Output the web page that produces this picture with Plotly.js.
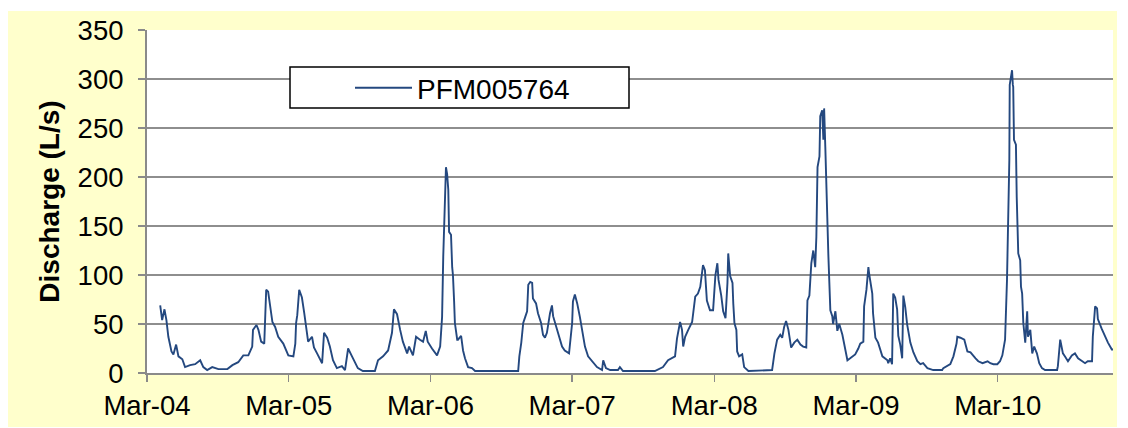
<!DOCTYPE html>
<html>
<head>
<meta charset="utf-8">
<script src="https://cdn.plot.ly/plotly-3.0.1.min.js"></script>
<style>
  html, body { margin: 0; padding: 0; background: #ffffff; }
  #chart { width: 1128px; height: 428px; }
</style>
</head>
<body>
<div id="chart"></div>
<script>
// ---- Data ----
const seriesName = "PFM005764";
const yAxisTitle = "Discharge (L/s)";

const dates = [
  "2004-04-04","2004-04-09","2004-04-15","2004-04-20","2004-04-25","2004-05-03","2004-05-08","2004-05-15",
  "2004-05-21","2004-05-31","2004-06-07","2004-06-20","2004-07-03","2004-07-16","2004-07-24","2004-08-03",
  "2004-08-16","2004-09-01","2004-09-24","2004-10-07","2004-10-22","2004-11-04","2004-11-17","2004-11-27",
  "2004-11-29","2004-12-08","2004-12-13","2004-12-20","2004-12-28","2005-01-02","2005-01-07","2005-01-18",
  "2005-01-25","2005-02-02","2005-02-15","2005-02-28","2005-03-13","2005-03-18","2005-03-20","2005-03-23",
  "2005-03-28","2005-04-04","2005-04-10","2005-04-15","2005-04-20","2005-04-30","2005-05-05","2005-05-13",
  "2005-05-21","2005-05-26","2005-05-31","2005-06-08","2005-06-15","2005-06-23","2005-07-03","2005-07-16",
  "2005-07-24","2005-08-01","2005-08-11","2005-08-19","2005-08-26","2005-09-08","2005-10-09","2005-10-17",
  "2005-10-30","2005-11-12","2005-11-22","2005-11-27","2005-12-05","2005-12-13","2005-12-20","2005-12-31",
  "2006-01-05","2006-01-15","2006-01-23","2006-02-02","2006-02-10","2006-02-17","2006-02-22","2006-03-05",
  "2006-03-18","2006-03-26","2006-03-31","2006-04-03","2006-04-05","2006-04-08","2006-04-10","2006-04-13",
  "2006-04-16","2006-04-18","2006-04-23","2006-04-26","2006-04-28","2006-05-01","2006-05-03","2006-05-09",
  "2006-05-11","2006-05-19","2006-05-24","2006-05-29","2006-06-06","2006-06-16","2006-06-24","2006-10-13",
  "2006-10-16","2006-10-21","2006-10-26","2006-10-31","2006-11-05","2006-11-08","2006-11-13","2006-11-18",
  "2006-11-20","2006-11-28","2006-12-03","2006-12-11","2006-12-16","2006-12-21","2006-12-26","2007-01-03",
  "2007-01-08","2007-01-11","2007-01-18","2007-01-23","2007-02-03","2007-02-10","2007-02-21","2007-03-01",
  "2007-03-03","2007-03-08","2007-03-14","2007-03-21","2007-03-29","2007-04-03","2007-04-11","2007-04-21",
  "2007-05-04","2007-05-17","2007-05-20","2007-05-27","2007-06-07","2007-06-27","2007-07-02","2007-07-10",
  "2007-09-30","2007-10-21","2007-11-03","2007-11-21","2007-11-26","2007-12-04","2007-12-09","2007-12-12",
  "2007-12-17","2007-12-25","2008-01-04","2008-01-12","2008-01-19","2008-01-25","2008-02-01","2008-02-06",
  "2008-02-11","2008-02-19","2008-02-27","2008-03-04","2008-03-09","2008-03-12","2008-03-19","2008-03-24",
  "2008-03-30","2008-04-04","2008-04-06","2008-04-11","2008-04-17","2008-04-19","2008-04-22","2008-04-27",
  "2008-04-29","2008-05-04","2008-05-12","2008-05-17","2008-05-28","2008-07-28","2008-08-03","2008-08-10",
  "2008-08-18","2008-08-23","2008-08-28","2008-09-02","2008-09-08","2008-09-15","2008-09-23","2008-10-01",
  "2008-10-09","2008-10-16","2008-10-24","2008-10-27","2008-11-01","2008-11-06","2008-11-11","2008-11-16",
  "2008-11-19","2008-11-22","2008-11-27","2008-11-29","2008-12-04","2008-12-07","2008-12-09","2008-12-12",
  "2008-12-15","2008-12-17","2008-12-20","2008-12-25","2008-12-30","2009-01-01","2009-01-07","2009-01-12",
  "2009-01-17","2009-01-25","2009-01-30","2009-02-07","2009-02-14","2009-02-27","2009-03-07","2009-03-12",
  "2009-03-20","2009-03-22","2009-03-28","2009-04-02","2009-04-04","2009-04-09","2009-04-12","2009-04-14",
  "2009-04-20","2009-04-27","2009-05-08","2009-05-21","2009-05-23","2009-05-28","2009-06-02","2009-06-05",
  "2009-06-10","2009-06-15","2009-06-18","2009-06-23","2009-06-28","2009-07-01","2009-07-06","2009-07-11",
  "2009-07-19","2009-07-27","2009-08-06","2009-08-14","2009-08-21","2009-09-01","2009-09-16","2009-10-09",
  "2009-10-12","2009-10-30","2009-11-07","2009-11-15","2009-11-17","2009-11-25","2009-12-05","2009-12-13",
  "2009-12-21","2010-01-03","2010-01-10","2010-01-21","2010-02-03","2010-02-10","2010-02-18","2010-02-28",
  "2010-03-07","2010-03-13","2010-03-15","2010-03-20","2010-03-25","2010-03-28","2010-03-31","2010-04-01",
  "2010-04-05","2010-04-07","2010-04-09","2010-04-10","2010-04-12","2010-04-17","2010-04-19","2010-04-20",
  "2010-04-23","2010-04-28","2010-04-30","2010-05-03","2010-05-06","2010-05-11","2010-05-16","2010-05-18",
  "2010-05-24","2010-05-29","2010-06-03","2010-06-10","2010-06-16","2010-06-23","2010-07-01","2010-08-01",
  "2010-08-03","2010-08-09","2010-08-16","2010-08-21","2010-08-29","2010-09-08","2010-09-16","2010-09-24",
  "2010-10-04","2010-10-12","2010-10-19","2010-10-30","2010-11-01","2010-11-07","2010-11-12","2010-11-14",
  "2010-11-24","2010-12-02","2010-12-10","2010-12-20","2010-12-23"
];

const discharge = [
  69,54,65,54,37,22,19,29,
  17,14,6,8,9,13,6,3,
  6,4,4,8,11,18,18,27,
  44,49,44,32,30,85,83,52,
  47,37,30,18,17,30,51,59,
  85,77,61,44,32,37,26,20,
  13,10,41,36,27,13,5,7,
  3,25,17,10,5,2,2,13,
  17,23,41,65,60,44,32,20,
  27,18,37,34,32,43,32,25,
  18,27,57,119,149,207,210,203,
  187,144,141,108,100,73,51,34,
  34,38,23,15,6,5,2,2,
  17,31,51,57,63,90,93,92,
  76,71,61,51,39,36,41,61,
  69,58,48,41,27,23,20,51,
  73,80,71,57,38,27,17,12,
  6,3,13,5,3,3,6,2,
  2,6,13,17,35,52,44,27,
  37,44,52,78,81,88,110,105,
  74,64,64,100,112,95,79,63,
  56,92,122,99,92,71,51,44,
  22,17,19,6,2,3,20,34,
  39,36,47,53,44,26,31,34,
  29,27,26,74,79,112,125,108,
  139,210,221,262,268,238,270,231,
  180,166,119,64,58,50,63,43,
  50,39,29,13,15,19,25,30,
  32,68,85,108,101,88,81,61,
  36,31,17,13,10,15,9,81,
  77,65,38,29,15,79,67,49,
  31,21,12,9,10,5,3,3,
  5,9,17,30,37,36,34,22,
  21,15,12,10,12,10,9,9,
  12,18,22,34,95,166,217,294,
  307,309,294,292,238,233,180,166,
  122,115,88,81,51,31,63,37,
  44,20,27,20,10,5,3,3,
  7,34,20,17,12,18,20,15,
  12,10,12,12,37,68,66,55,
  45,37,31,24,24
];

const xRange = ["2004-03-01", "2010-12-23"];
const yRange = [0, 350];

// ---- Styling ----
const FONT = "Liberation Sans, Arial, sans-serif";
const LINE_COLOR = "#24487f";
const GRID = "#8e8e8e";

// paper fractions for decorative frames (plot domain: x 147..1113 px, y 30..373 px)
const W = 966, H = 343;
const px = v => (v - 147) / W;
const py = v => (373 - v) / H;

const trace = {
  x: dates,
  y: discharge,
  type: "scatter",
  mode: "lines",
  name: seriesName,
  line: { color: LINE_COLOR, width: 1.9 }
};

const layout = {
  width: 1128,
  height: 428,
  margin: { l: 147, r: 15, t: 30, b: 55, pad: 0 },
  paper_bgcolor: "#ffffff",
  plot_bgcolor: "#ffffff",
  font: { family: FONT, color: "#000000", size: 27 },
  showlegend: true,
  legend: {
    x: px(350), y: py(88), xanchor: "left", yanchor: "middle",
    bgcolor: "rgba(0,0,0,0)", borderwidth: 0,
    font: { family: FONT, size: 28, color: "#000000" },
    itemwidth: 57
  },
  xaxis: {
    type: "date",
    range: xRange,
    tick0: "2004-03-01",
    dtick: "M12",
    tickformat: "%b-%y",
    ticks: "outside",
    ticklen: 7,
    tickwidth: 1.5,
    tickcolor: "#8a8a8a",
    showline: true,
    linecolor: "#8a8a8a",
    linewidth: 2,
    showgrid: false,
    zeroline: false,
    tickfont: { family: FONT, size: 27.5, color: "#000000" }
  },
  yaxis: {
    range: yRange,
    dtick: 50,
    tick0: 0,
    ticks: "outside",
    ticklen: 7,
    tickwidth: 1.5,
    tickcolor: "#8a8a8a",
    showline: true,
    linecolor: "#8a8a8a",
    linewidth: 2,
    showgrid: true,
    gridcolor: GRID,
    gridwidth: 1.5,
    zeroline: false,
    ticklabelstandoff: 9,
    tickfont: { family: FONT, size: 27.5, color: "#000000" },
    title: {
      text: yAxisTitle,
      font: { family: FONT, size: 28, color: "#000000", weight: "bold" },
      standoff: 10
    }
  },
  shapes: [
    { type: "rect", xref: "paper", yref: "paper", layer: "below",
      x0: px(8), x1: px(1117), y0: py(427), y1: py(11),
      fillcolor: "#ffffcc", line: { width: 0 } },
    { type: "rect", xref: "paper", yref: "paper", layer: "below",
      x0: 0, x1: 1, y0: 0, y1: 1,
      fillcolor: "#ffffff", line: { width: 0 } },
    { type: "rect", xref: "paper", yref: "paper", layer: "above",
      x0: px(290), x1: px(629), y0: py(108), y1: py(67),
      fillcolor: "#ffffff", line: { color: "#000000", width: 1.5 } }
  ]
};

Plotly.newPlot("chart", [trace], layout, { staticPlot: true, displayModeBar: false });
</script>
</body>
</html>
